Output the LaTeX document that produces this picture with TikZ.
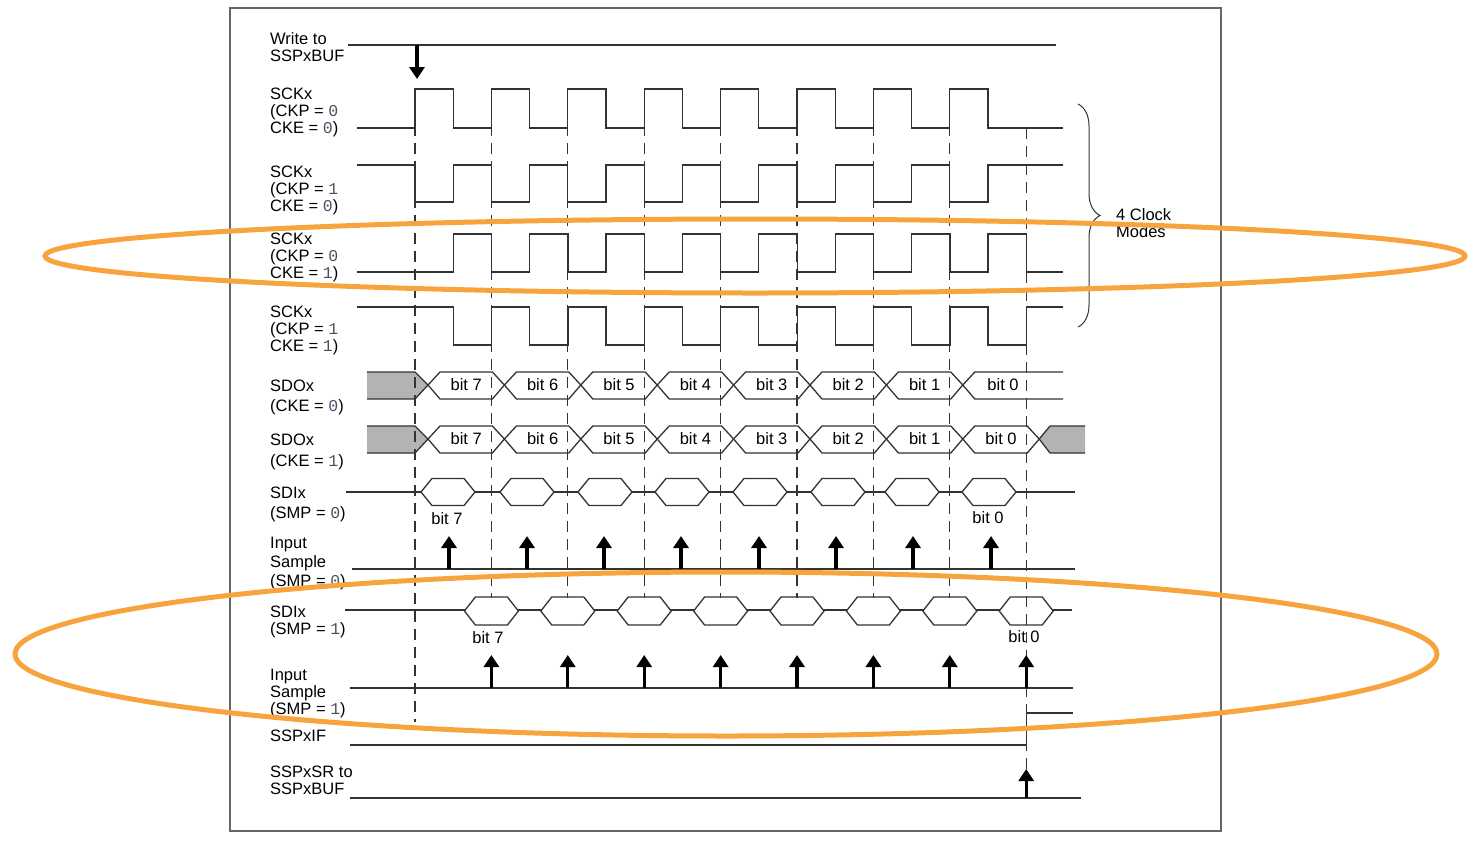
\documentclass[tikz,border=0pt]{standalone}
\usepackage{fontspec}
\setmainfont{Liberation Sans}
\newfontfamily\digitfont{Liberation Mono}
\usetikzlibrary{arrows.meta, decorations.pathreplacing}
\definecolor{wavegray}{HTML}{333333}
\definecolor{framegray}{HTML}{666666}
\definecolor{busfill}{HTML}{B3B3B3}
\definecolor{markorange}{HTML}{F8A43E}
\definecolor{digitgray}{HTML}{4A5060}
\newcommand{\dg}[1]{{\digitfont\color{digitgray}#1}}

\begin{document}
\begin{tikzpicture}[
    x=1pt, y=-1pt,
    wave/.style={draw=wavegray, line width=1.3pt},
    guide/.style={draw=wavegray, line width=1.2pt, dash pattern=on 11pt off 7pt},
    sample/.style={-{Triangle[width=15pt,length=12pt]}, line width=3.2pt},
    siglbl/.style={anchor=north west, inner sep=0pt, align=left, font=\fontsize{16.5}{17}\selectfont},
    bitlbl/.style={inner sep=0pt, font=\fontsize{16.5}{17}\selectfont},
    ring/.style={draw=markorange, line width=5pt},
]
\useasboundingbox (0,0) rectangle (1483,841);

% Frame
\draw[framegray, line width=1.6pt] (230,8) rectangle (1221,831);

% Signal names
\node[siglbl] (wrlbl) at (270,32) {Write to\\SSPxBUF};
\node[siglbl] (ckAlbl) at (270,88) {SCKx\\(CKP = \dg{0}\\CKE = \dg{0})};
\node[siglbl] (ckBlbl) at (270,166) {SCKx\\(CKP = \dg{1}\\CKE = \dg{0})};
\node[siglbl] (ckClbl) at (270,233) {SCKx\\(CKP = \dg{0}\\CKE = \dg{1})};
\node[siglbl] (ckDlbl) at (270,306) {SCKx\\(CKP = \dg{1}\\CKE = \dg{1})};
\node[siglbl] (sdoAlbl) at (270,380) {SDOx\\[3pt](CKE = \dg{0})};
\node[siglbl] (sdoBlbl) at (270,434) {SDOx\\[4pt](CKE = \dg{1})};
\node[siglbl] (sdiAlbl) at (270,487) {SDIx\\[3pt](SMP = \dg{0})};
\node[siglbl] (inAlbl) at (270,537) {Input\\[2pt]Sample\\[2pt](SMP = \dg{0})};
\node[siglbl] (sdiBlbl) at (270,606) {SDIx\\(SMP = \dg{1})};
\node[siglbl] (inBlbl) at (270,669) {Input\\Sample\\(SMP = \dg{1})};
\node[siglbl] (iflbl) at (270,730) {SSPxIF};
\node[siglbl] (srlbl) at (270,766) {SSPxSR to\\SSPxBUF};

% Write to SSPxBUF
\draw[wave] (348,45) -- (1056,45);
\coordinate (wrtop) at (417,45);
\coordinate (wrtip) at (417,79);
\draw[sample] (wrtop) -- (wrtip);

% Clocks
\draw[wave] (357,128) \foreach \k in {0,...,7}{ -- ({415+76.4*\k},128) -- ({415+76.4*\k},89) -- ({453.2+76.4*\k},89) -- ({453.2+76.4*\k},128) } -- (1063,128);
\draw[wave] (357,165) \foreach \k in {0,...,7}{ -- ({415+76.4*\k},165) -- ({415+76.4*\k},202) -- ({453.2+76.4*\k},202) -- ({453.2+76.4*\k},165) } -- (1063,165);
\draw[wave] (357,272) \foreach \k in {0,...,7}{ -- ({453.2+76.4*\k},272) -- ({453.2+76.4*\k},234) -- ({491.6+76.4*\k},234) -- ({491.6+76.4*\k},272) } -- (1063,272);
\draw[wave] (357,307) \foreach \k in {0,...,7}{ -- ({453.2+76.4*\k},307) -- ({453.2+76.4*\k},345) -- ({491.6+76.4*\k},345) -- ({491.6+76.4*\k},307) } -- (1063,307);

% Brace
\draw[wavegray, line width=1pt, decorate, decoration={brace, amplitude=22pt}] (1078,104) -- (1078,327);
\node[siglbl] (modelbl) at (1116,208) {4 Clock\\Modes};

% SDOx (CKE = 0)
\fill[busfill] (367,372) -- (415,372) -- (428,385) -- (415,399) -- (367,399) -- cycle;
\draw[wave] (367,372) -- (415,372) -- (428,385) -- (415,399) -- (367,399);
\foreach \b [count=\k from 0] in {7,...,1}{
  \pgfmathsetmacro\L{428+76.4*\k}
  \pgfmathsetmacro\R{\L+76.4}
  \draw[wave] (\L,385) -- (\L+12,372) -- (\R-12,372) -- (\R,385) -- (\R-12,399) -- (\L+12,399) -- cycle;
  \node[bitlbl] (sdoA\b) at ({(\L+\R)/2},385) {bit \b};
}
\draw[wave] (1063,372) -- (974.8,372) -- (962.8,385) -- (974.8,399) -- (1063,399);
\node[bitlbl] (sdoA0) at (1003,385) {bit 0};

% SDOx (CKE = 1)
\fill[busfill] (367,426) -- (415,426) -- (428,439) -- (415,453) -- (367,453) -- cycle;
\draw[wave] (367,426) -- (415,426) -- (428,439) -- (415,453) -- (367,453);
\foreach \b [count=\k from 0] in {7,...,0}{
  \pgfmathsetmacro\L{428+76.4*\k}
  \pgfmathsetmacro\R{\L+76.4}
  \draw[wave] (\L,439) -- (\L+12,426) -- (\R-12,426) -- (\R,439) -- (\R-12,453) -- (\L+12,453) -- cycle;
  \node[bitlbl] (sdoB\b) at ({(\L+\R)/2},439) {bit \b};
}
\fill[busfill] (1085,426) -- (1050,426) -- (1039.2,439) -- (1050,453) -- (1085,453) -- cycle;
\draw[wave] (1085,426) -- (1050,426) -- (1039.2,439) -- (1050,453) -- (1085,453);

% SDIx (SMP = 0)
\draw[wave] (346,492) -- (1075,492);
\foreach \c in {448,527,605,682,760,838,912,989}{
  \draw[wave, fill=white] (\c-27,492) -- (\c-16,478.5) -- (\c+16,478.5) -- (\c+27,492) -- (\c+16,505.5) -- (\c-16,505.5) -- cycle;
}
\node[bitlbl] (sdiA7) at (447,519) {bit 7};
\node[bitlbl] (sdiA0) at (988,518) {bit 0};

% SDIx (SMP = 1)
\draw[wave] (345,610) -- (1072,610);
\foreach \k in {1,...,8}{
  \pgfmathsetmacro\c{415+76.4*\k}
  \draw[wave, fill=white] (\c-27,611) -- (\c-16,597) -- (\c+16,597) -- (\c+27,611) -- (\c+16,625) -- (\c-16,625) -- cycle;
}
\node[bitlbl] (sdiB7) at (488,638) {bit 7};
\node[bitlbl] (sdiB0) at (1024,637) {bit 0};

% Guides
\draw[guide] (415,89) -- (415,722);
\foreach \k in {1,...,7}{
  \draw[guide] ({415+76.4*\k},89) -- ({415+76.4*\k},598);
}
\draw[guide] (1026.2,128) -- (1026.2,770);

% Input samples
\draw[wave] (352,569) -- (1075,569);
\foreach \c in {449,527,604,681,759,836,913,991}{
  \draw[sample] (\c,569) -- (\c,536);
}
\draw[wave] (350,688) -- (1073,688);
\foreach \k in {1,...,8}{
  \draw[sample] ({415+76.4*\k},688) -- ({415+76.4*\k},655);
}

% SSPxIF
\draw[wave] (350,745) -- (1026.2,745) -- (1026.2,713) -- (1073,713);

% SSPxSR to SSPxBUF
\draw[wave] (350,798) -- (1081,798);
\coordinate (srbase) at (1026.2,798);
\coordinate (srtip) at (1026.2,769);
\draw[sample] (srbase) -- (srtip);

% Highlight rings
\draw[ring] (755,256) ellipse [x radius=710pt, y radius=37pt];
\draw[ring] (726,654) ellipse [x radius=711pt, y radius=82pt];

\end{tikzpicture}
\end{document}
